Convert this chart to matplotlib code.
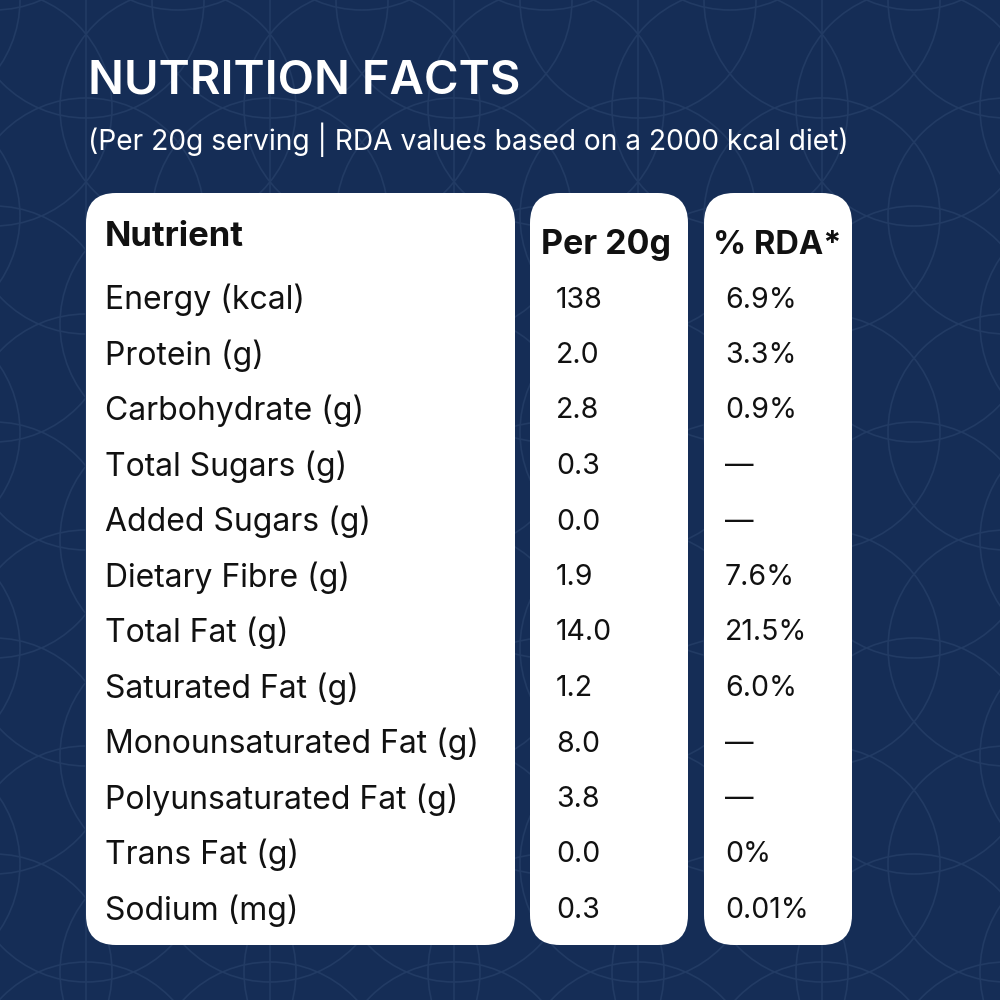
import numpy as np
import matplotlib.pyplot as plt
from matplotlib.patches import FancyBboxPatch, Circle

plt.rcParams['font.family'] = ['Inter', 'DejaVu Sans']

nutrients = ['Energy (kcal)', 'Protein (g)', 'Carbohydrate (g)', 'Total Sugars (g)',
             'Added Sugars (g)', 'Dietary Fibre (g)', 'Total Fat (g)', 'Saturated Fat (g)',
             'Monounsaturated Fat (g)', 'Polyunsaturated Fat (g)', 'Trans Fat (g)', 'Sodium (mg)']
per_20g = ['138', '2.0', '2.8', '0.3', '0.0', '1.9', '14.0', '1.2', '8.0', '3.8', '0.0', '0.3']
rda = ['6.9%', '3.3%', '0.9%', '—', '—', '7.6%', '21.5%', '6.0%', '—', '—', '0%', '0.01%']
headers = ['Nutrient', 'Per 20g', '% RDA*']

title = 'NUTRITION FACTS'
subtitle = '(Per 20g serving | RDA values based on a 2000 kcal diet)'

navy = '#152d56'
line_col = '#223b64'
ink = '#111111'

fig = plt.figure(figsize=(10, 10), dpi=100)
fig.patch.set_facecolor(navy)
ax = fig.add_axes([0, 0, 1, 1])
ax.set_xlim(0, 1000)
ax.set_ylim(1000, 0)
ax.axis('off')

# faint background pattern of overlapping circles
for row in range(-2, 12):
    for col in range(-2, 8):
        cx = col * 184 + (row % 2) * 92 + 86
        cy = row * 108
        ax.add_patch(Circle((cx, cy), 118, fill=False, ec=line_col, lw=1.2, zorder=0))
for col in range(-1, 8):
    ax.plot([col * 184 + 86] * 2, [0, 1000], color=line_col, lw=1.2, zorder=0)

ax.text(88, 81, title, color='white', fontsize=34, fontweight='semibold', va='center', ha='left', zorder=5)
ax.text(88, 140, subtitle, color='white', fontsize=20.3, va='center', ha='left', zorder=5)

# cards
cards = [(86, 515), (530, 688), (704, 852)]
for x0, x1 in cards:
    ax.add_patch(FancyBboxPatch((x0 + 30, 193 + 30), x1 - x0 - 60, 945 - 193 - 60,
                                boxstyle='round,pad=30', fc='white', ec='none', zorder=3))

ax.text(105, 237, headers[0], fontsize=25, fontweight='bold', va='center', ha='left', color=ink, zorder=5)
ax.text(541, 245, headers[1], fontsize=24.5, fontweight='bold', va='center', ha='left', color=ink, zorder=5)
ax.text(713, 245, headers[2], fontsize=23.5, fontweight='bold', va='center', ha='left', color=ink, zorder=5)

row_y = 300
step = 55.5
for i, name in enumerate(nutrients):
    y = row_y + i * step
    ax.text(105, y, name, fontsize=23, va='center', ha='left', color=ink, zorder=5)
    ax.text(556, y, per_20g[i], fontsize=20.5, va='center', ha='left', color=ink, zorder=5)
    ax.text(725, y, rda[i], fontsize=20.5, va='center', ha='left', color=ink, zorder=5)

fig.savefig('out.png', dpi=100, facecolor=navy)
